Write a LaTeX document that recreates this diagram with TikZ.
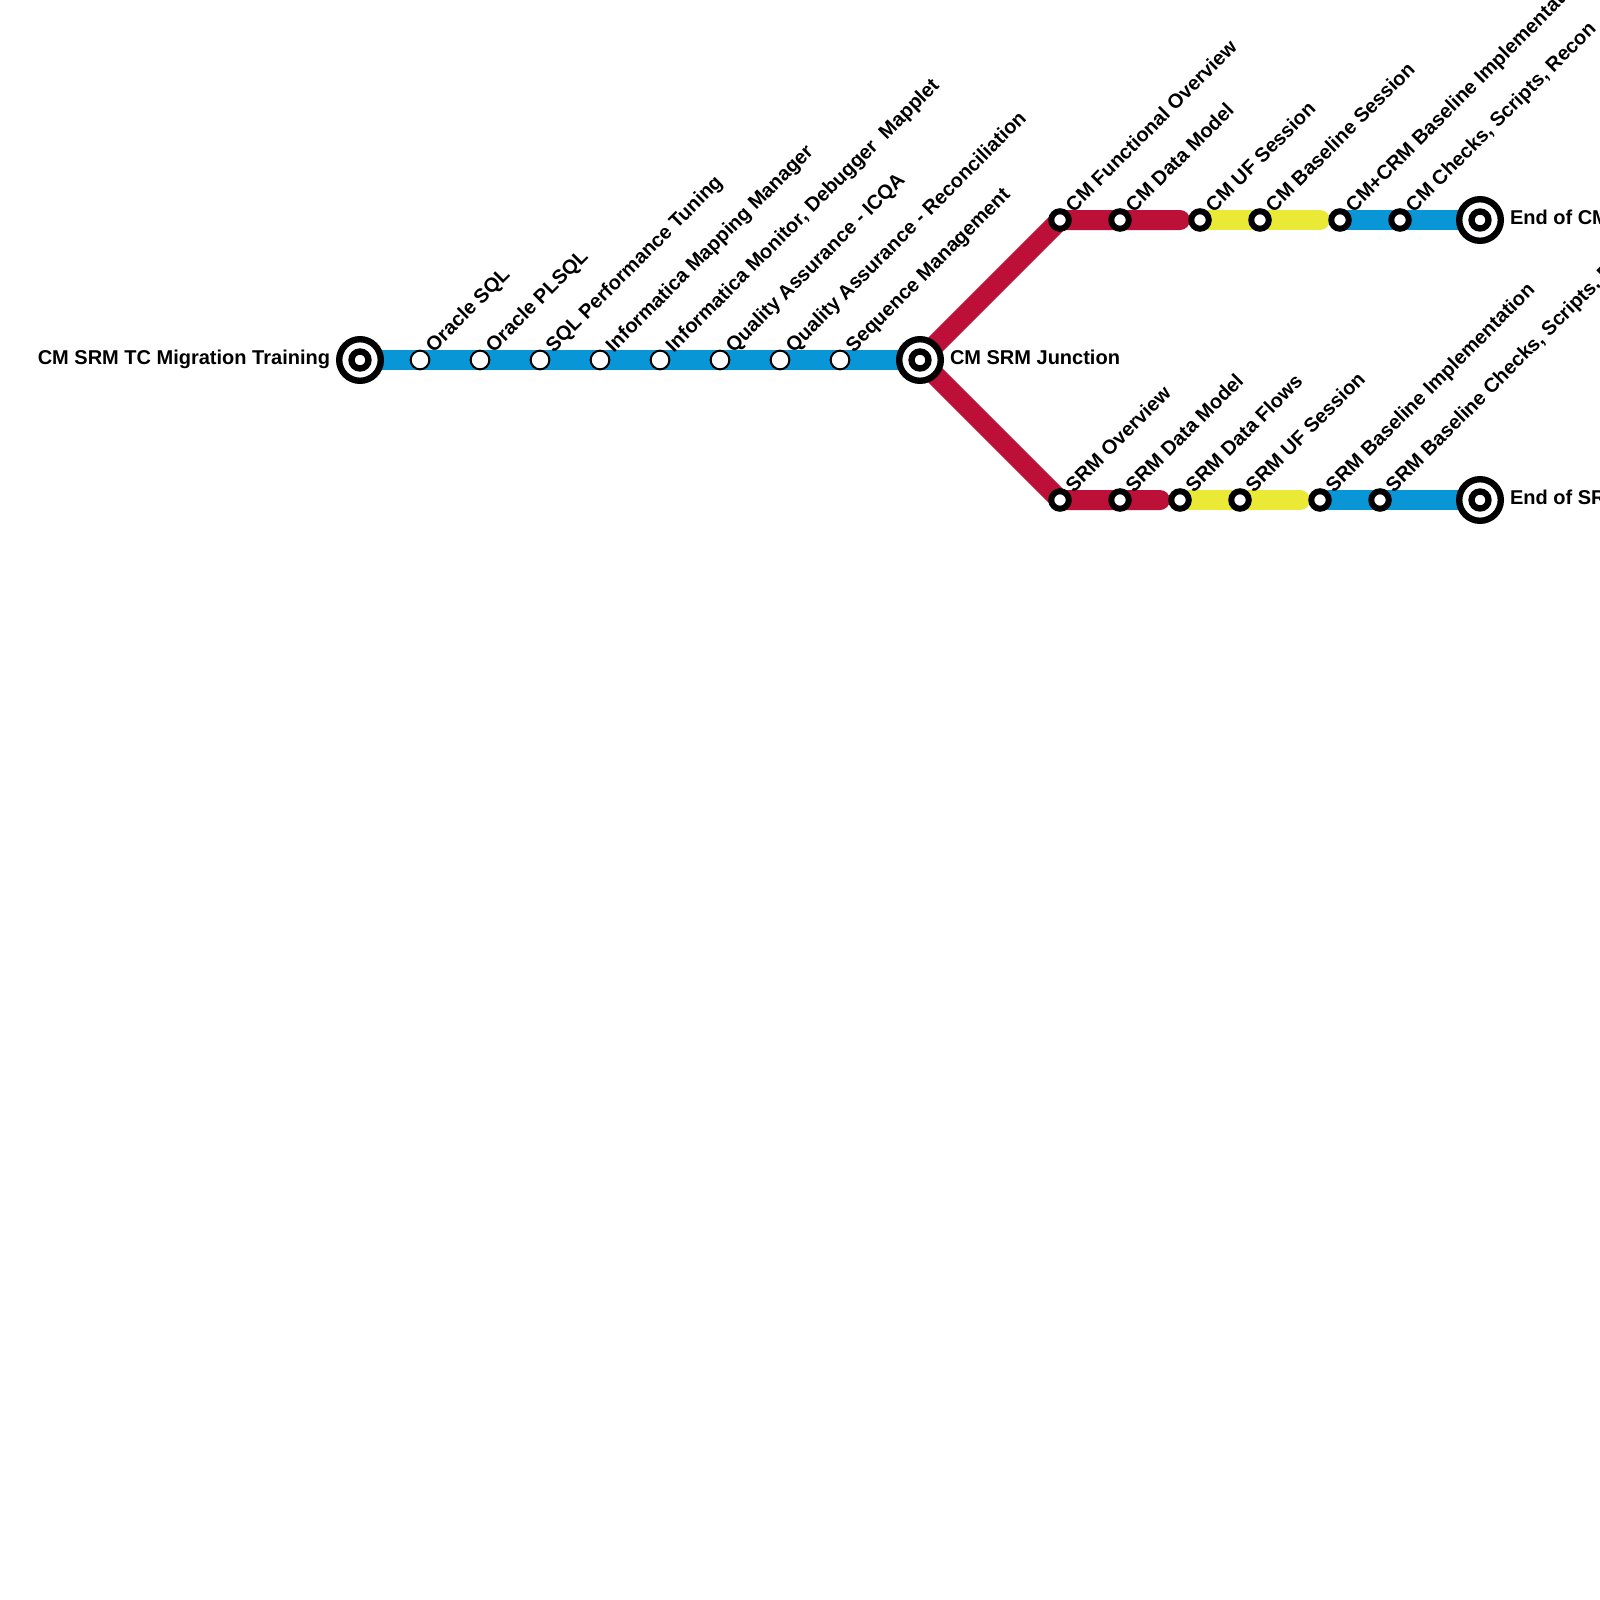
\documentclass[tikz,border=0pt]{standalone}
\usepackage{fontspec}
\setmainfont{Liberation Sans}
\usetikzlibrary{backgrounds}
\definecolor{lineblue}{HTML}{0896D7}
\definecolor{linered}{HTML}{BD1038}
\definecolor{lineyellow}{HTML}{E9E936}
\tikzset{
  x=1pt,y=-1pt,
  stationwhite/.style={circle,draw=black,fill=white,line width=2pt,minimum size=18.7pt,inner sep=0pt,outer sep=0pt},
  stationblack/.style={circle,draw=black,fill=white,line width=6pt,minimum size=17.5pt,inner sep=0pt,outer sep=0pt},
  terminalring/.style={circle,draw=black,fill=white,line width=6.4pt,minimum size=41.6pt,inner sep=0pt,outer sep=0pt},
  terminalcore/.style={circle,draw=black,fill=white,line width=6.3pt,minimum size=17pt,inner sep=0pt,outer sep=0pt},
  txt/.style={font=\fontsize{20}{24}\selectfont\bfseries,text=black,inner sep=0pt,outer sep=0pt},
  slant/.style={txt,rotate=45,anchor=base west},
  route/.style={line width=20pt,line cap=round},
  routeflat/.style={line width=20pt,line cap=butt},
}
\begin{document}
\begin{tikzpicture}
\useasboundingbox (0,0) rectangle (1600,1600);
\clip (0,0) rectangle (1600,1600);
% stations
\node[terminalring] (start) at (360,360) {};
\node[terminalcore] (startc) at (360,360) {};
\foreach \n/\x in {a1/420,a2/480,a3/540,a4/600,a5/660,a6/720,a7/780,a8/840}
  \node[stationwhite] (\n) at (\x,360) {};
\node[terminalring] (junction) at (920,360) {};
\node[terminalcore] (junctionc) at (920,360) {};
\foreach \n/\x in {c1/1060,c2/1120,c3/1200,c4/1260,c5/1340,c6/1400}
  \node[stationblack] (\n) at (\x,220) {};
\foreach \n/\x in {s1/1060,s2/1120,s3/1180,s4/1240,s5/1320,s6/1380}
  \node[stationblack] (\n) at (\x,500) {};
\node[terminalring] (endc) at (1480,220) {};
\node[terminalcore] (endcc) at (1480,220) {};
\node[terminalring] (ends) at (1480,500) {};
\node[terminalcore] (endsc) at (1480,500) {};
\coordinate (cr) at (1180,220);
\coordinate (cy) at (1320,220);
\coordinate (sr) at (1160,500);
\coordinate (sy) at (1300,500);
% routes
\begin{scope}[on background layer]
\draw[routeflat,lineblue] (start.center) -- (junction.center);
\draw[route,linered] (junction.center) -- (c1.center) -- (cr);
\draw[route,linered] (junction.center) -- (s1.center) -- (sr);
\draw[route,lineyellow] (c3.center) -- (cy);
\draw[route,lineyellow] (s3.center) -- (sy);
\draw[routeflat,lineblue] (c5.center) -- (endc.center);
\draw[routeflat,lineblue] (s5.center) -- (ends.center);
\end{scope}
% labels
\def\dx{13.8}\def\dy{-7}
\node[txt,anchor=base east] (lstart) at (330,364.5) {CM SRM TC Migration Training};
\node[txt,anchor=base west] (ljunction) at (950,364.5) {CM SRM Junction};
\node[txt,anchor=base west] (lendc) at (1510,224.5) {End of CM};
\node[txt,anchor=base west] (lends) at (1510,504.5) {End of SRM};
\node[slant] (la1) at (420+\dx,360+\dy) {Oracle SQL};
\node[slant] (la2) at (480+\dx,360+\dy) {Oracle PLSQL};
\node[slant] (la3) at (540+\dx,360+\dy) {SQL Performance Tuning};
\node[slant] (la4) at (600+\dx,360+\dy) {Informatica Mapping Manager};
\node[slant] (la5) at (660+\dx,360+\dy) {Informatica Monitor, Debugger\ \ Mapplet};
\node[slant] (la6) at (720+\dx,360+\dy) {Quality Assurance - ICQA};
\node[slant] (la7) at (780+\dx,360+\dy) {Quality Assurance - Reconciliation};
\node[slant] (la8) at (840+\dx,360+\dy) {Sequence Management};
\node[slant] (lc1) at (1060+\dx,220+\dy) {CM Functional Overview};
\node[slant] (lc2) at (1120+\dx,220+\dy) {CM Data Model};
\node[slant] (lc3) at (1200+\dx,220+\dy) {CM UF Session};
\node[slant] (lc4) at (1260+\dx,220+\dy) {CM Baseline Session};
\node[slant] (lc5) at (1340+\dx,220+\dy) {CM+CRM Baseline Implementation};
\node[slant] (lc6) at (1400+\dx,220+\dy) {CM Checks, Scripts, Recon};
\node[slant] (ls1) at (1060+\dx,500+\dy) {SRM Overview};
\node[slant] (ls2) at (1120+\dx,500+\dy) {SRM Data Model};
\node[slant] (ls3) at (1180+\dx,500+\dy) {SRM Data Flows};
\node[slant] (ls4) at (1240+\dx,500+\dy) {SRM UF Session};
\node[slant] (ls5) at (1320+\dx,500+\dy) {SRM Baseline Implementation};
\node[slant] (ls6) at (1380+\dx,500+\dy) {SRM Baseline Checks, Scripts, Recon};
\end{tikzpicture}
\end{document}
